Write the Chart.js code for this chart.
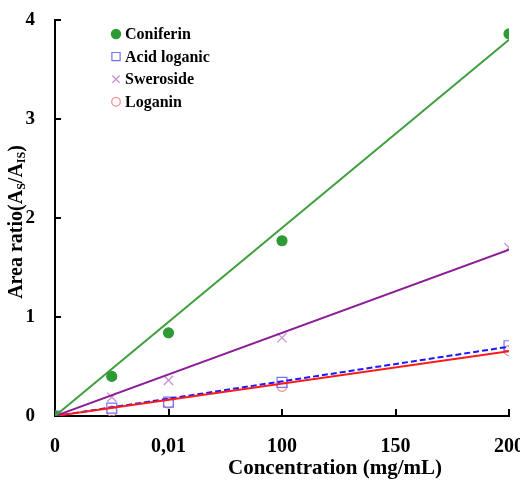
<!DOCTYPE html>
<html>
<head>
<meta charset="utf-8">
<script src="https://cdn.jsdelivr.net/npm/chart.js@4/dist/chart.umd.min.js"></script>
<style>
html,body{margin:0;padding:0;background:#fff;}
canvas{display:block;}
</style>
</head>
<body>
<canvas id="c" width="520" height="482"></canvas>
<script>
// ---- data ----
const concentrations = [0, 25, 50, 100, 200];
const coniferin   = [0, 0.40, 0.84, 1.77, 3.86];
const acidLoganic = [0, 0.08, 0.14, 0.34, 0.71];
const sweroside   = [0, 0.19, 0.36, 0.79, 1.70];
const loganin     = [0, 0.05, 0.13, 0.30, 0.66];

// fitted lines (start/end)
const fitX            = [0, 200];
const coniferinFit    = [0, 3.80];
const acidLoganicFit  = [0, 0.70];
const swerosideFit    = [0, 1.68];
const loganinFit      = [0, 0.655];

const xTickValues = [0, 50, 100, 150, 200];
const xTickLabels = ['0', '0,01', '100', '150', '200'];
const yTickValues = [0, 1, 2, 3, 4];
const seriesNames = ['Coniferin', 'Acid loganic', 'Sweroside', 'Loganin'];
const xTitle = 'Concentration (mg/mL)';

const pts = (xs, ys) => xs.map((x, i) => ({x: x, y: ys[i]}));
const SERIF = '"Liberation Serif", "DejaVu Serif", serif';

const markerDs = (label, ys, style, color, fill, r, lr) => ({
  type: 'scatter', label: label, data: pts(concentrations, ys), showLine: false,
  pointStyle: style, pointRadius: r, pointHoverRadius: r,
  borderColor: color, backgroundColor: fill, pointBorderWidth: 1.2, isMarker: true, legendRadius: lr, order: 2
});
const lineDs = (label, ys, color, dash) => ({
  type: 'line', label: label, data: pts(fitX, ys), borderColor: color, borderWidth: 2,
  borderDash: dash || [], pointRadius: 0, fill: false, isMarker: false, order: 1
});

const datasets = [
  markerDs(seriesNames[0], coniferin, 'circle', '#2e9a34', '#2e9a34', 5, 4.6),
  markerDs(seriesNames[1], acidLoganic, 'rect', '#7373f2', 'rgba(0,0,0,0)', 7, 5.8),
  markerDs(seriesNames[2], sweroside, 'crossRot', '#c88ad0', 'rgba(0,0,0,0)', 6.5, 5.2),
  markerDs(seriesNames[3], loganin, 'circle', '#f58a8a', 'rgba(0,0,0,0)', 5, 4.3),
  lineDs('fit1', coniferinFit, '#3c9e3c'),
  lineDs('fit3', swerosideFit, '#8b1c98'),
  lineDs('fit4', loganinFit, '#ff1a1a'),
  lineDs('fit2', acidLoganicFit, '#1a1aff', [6, 3])
];

const decorPlugin = {
  id: 'decor',
  afterDraw(chart) {
    const ctx = chart.ctx;
    const xs = chart.scales.x, ys = chart.scales.y;
    const area = chart.chartArea;
    ctx.save();
    // inside tick marks
    ctx.strokeStyle = '#000';
    ctx.lineWidth = 2;
    xTickValues.forEach(v => {
      if (v === 0) return;
      const px = Math.round(xs.getPixelForValue(v));
      ctx.beginPath(); ctx.moveTo(px, area.bottom); ctx.lineTo(px, area.bottom - 7); ctx.stroke();
    });
    yTickValues.forEach(v => {
      if (v === 0) return;
      const py = Math.round(ys.getPixelForValue(v));
      ctx.beginPath(); ctx.moveTo(area.left, py); ctx.lineTo(area.left + 6, py); ctx.stroke();
    });
    // x title
    ctx.fillStyle = '#000';
    ctx.font = 'bold 21px ' + SERIF;
    ctx.textAlign = 'center';
    ctx.textBaseline = 'middle';
    ctx.fillText(xTitle, 335, 469);
    // y title with subscripts
    const parts = [
      {t: 'Area ratio(A', sub: false}, {t: 'S', sub: true}, {t: '/A', sub: false},
      {t: 'IS', sub: true}, {t: ')', sub: false}
    ];
    const mainF = 'bold 20px ' + SERIF, subF = 'bold 12px ' + SERIF;
    let total = 0;
    parts.forEach(p => { ctx.font = p.sub ? subF : mainF; p.w = ctx.measureText(p.t).width; total += p.w; });
    ctx.translate(16, 222);
    ctx.rotate(-Math.PI / 2);
    ctx.textAlign = 'left';
    ctx.textBaseline = 'alphabetic';
    let cx = -total / 2;
    parts.forEach(p => {
      ctx.font = p.sub ? subF : mainF;
      ctx.fillText(p.t, cx, p.sub ? 9 : 6);
      cx += p.w;
    });
    ctx.restore();

    // legend
    ctx.save();
    ctx.font = 'bold 16px ' + SERIF;
    ctx.textBaseline = 'middle';
    ctx.textAlign = 'left';
    const markers = chart.data.datasets.filter(d => d.isMarker);
    markers.forEach((d, i) => {
      const y = 34 + i * 22.6;
      const mx = 116;
      ctx.strokeStyle = d.borderColor;
      ctx.fillStyle = d.backgroundColor;
      ctx.lineWidth = 1.2;
      Chart.helpers.drawPoint(ctx, {pointStyle: d.pointStyle, radius: d.legendRadius, borderWidth: 1.2, rotation: 0}, mx, y);
      ctx.fillStyle = '#000';
      ctx.fillText(d.label, 125, y + 1);
    });
    ctx.restore();
  }
};

new Chart(document.getElementById('c'), {
  data: { datasets: datasets },
  options: {
    responsive: false,
    animation: false,
    devicePixelRatio: 1,
    layout: { padding: { left: 0, top: 20, right: 11, bottom: 0 } },
    plugins: { legend: { display: false }, tooltip: { enabled: false } },
    scales: {
      x: {
        type: 'linear', min: 0, max: 200,
        grid: { display: false, drawTicks: false },
        border: { display: true, color: '#000', width: 2 },
        afterBuildTicks: s => { s.ticks = xTickValues.map(v => ({value: v})); },
        ticks: {
          padding: 19, color: '#000', maxRotation: 0, autoSkip: false,
          font: { family: SERIF, size: 20, weight: 'bold' },
          callback: (v) => { const i = xTickValues.indexOf(v); return i >= 0 ? xTickLabels[i] : ''; }
        },
        afterFit: s => { s.height = 66; s.paddingRight = 11; s.paddingLeft = 0; }
      },
      y: {
        type: 'linear', min: 0, max: 4,
        grid: { display: false, drawTicks: false },
        border: { display: true, color: '#000', width: 2 },
        afterBuildTicks: s => { s.ticks = yTickValues.map(v => ({value: v})); },
        ticks: {
          padding: 20, color: '#000',
          font: { family: SERIF, size: 19, weight: 'bold' }
        },
        afterFit: s => { s.width = 55; s.paddingTop = 0; s.paddingBottom = 0; }
      }
    }
  },
  plugins: [decorPlugin]
});
</script>
</body>
</html>
